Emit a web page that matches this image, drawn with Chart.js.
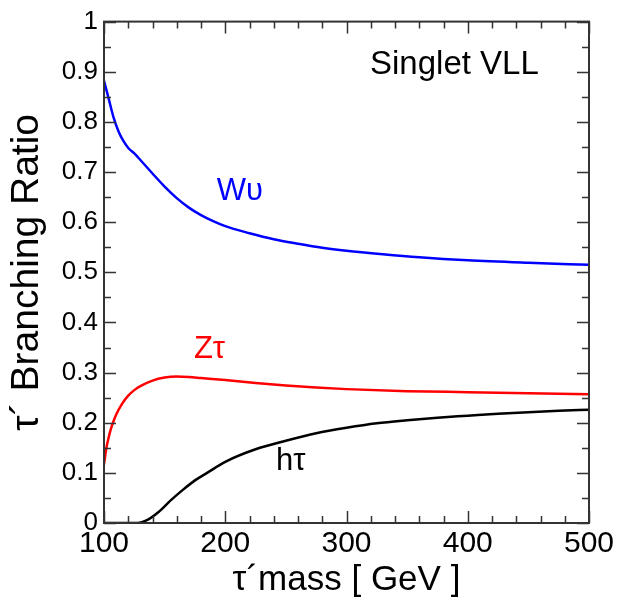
<!DOCTYPE html>
<html><head><meta charset="utf-8">
<script src="https://cdn.jsdelivr.net/npm/chart.js@4.4.1/dist/chart.umd.min.js"></script>
<style>html,body{margin:0;padding:0;background:#fff}</style>
</head><body>
<canvas id="c" width="619" height="599" style="width:619px;height:599px;display:block"></canvas>
<script>
// ---- data ----
const massW = [100,104,108,112,116,120,125,130,140,150,160,170,180,190,200,220,240,260,280,300,330,360,400,450,500];
const brW   = [0.882,0.845,0.808,0.781,0.762,0.748,0.737,0.724,0.697,0.671,0.648,0.629,0.614,0.602,0.592,0.578,0.566,0.557,0.549,0.543,0.536,0.530,0.524,0.519,0.515];
const massZ = [100,102,104,106,108,110,115,120,125,130,140,150,160,170,180,200,225,250,275,300,350,400,450,500];
const brZ   = [0.117,0.150,0.172,0.190,0.204,0.216,0.238,0.254,0.265,0.273,0.284,0.290,0.292,0.291,0.289,0.285,0.279,0.274,0.270,0.267,0.263,0.261,0.259,0.257];
const massH = [100,128,135,145,155,165,175,185,200,225,250,275,300,325,350,375,400,425,450,475,500];
const brH   = [0,0,0.005,0.022,0.045,0.066,0.085,0.100,0.122,0.147,0.164,0.179,0.190,0.199,0.205,0.210,0.214,0.218,0.221,0.224,0.226];
const seriesNames = ['Wυ','Zτ','hτ'];
const xTickValues = [100,200,300,400,500];
const xTickLabels = ['100','200','300','400','500'];
const yTickValues = [0,0.1,0.2,0.3,0.4,0.5,0.6,0.7,0.8,0.9,1];
const yTickLabels = ['0','0.1','0.2','0.3','0.4','0.5','0.6','0.7','0.8','0.9','1'];
const xTitle = 'τ´mass [ GeV ]';
const yTitle = 'τ´ Branching Ratio';
const boxText = 'Singlet VLL';

const FONT = "'Liberation Sans', Arial, Helvetica, sans-serif";
Chart.defaults.font.family = FONT;
Chart.defaults.color = '#000';

const pts = (xs, ys) => xs.map((v, i) => ({x: v, y: ys[i]}));
const mk = (label, xs, ys, color) => ({
  label, data: pts(xs, ys), borderColor: color, backgroundColor: color,
  borderWidth: 2.5, pointRadius: 0, showLine: true, fill: false,
  cubicInterpolationMode: 'monotone'
});

const frame = {
  id: 'frame',
  afterDatasetsDraw(chart) {
    const {ctx, chartArea: {left, right, top, bottom}, scales: {x, y}} = chart;
    ctx.save();
    ctx.strokeStyle = '#333';
    ctx.lineWidth = 1.5;
    ctx.beginPath();
    for (let v = 100; v <= 500; v += 20) {
      const px = Math.round(x.getPixelForValue(v)) + 0.5;
      const L = (v % 100 === 0) ? 12 : 7;
      ctx.moveTo(px, bottom); ctx.lineTo(px, bottom - L);
      ctx.moveTo(px, top); ctx.lineTo(px, top + L);
    }
    for (let i = 0; i <= 20; i++) {
      const py = Math.round(y.getPixelForValue(i * 0.05)) + 0.5;
      const L = (i % 2 === 0) ? 12 : 7;
      ctx.moveTo(left, py); ctx.lineTo(left + L, py);
      ctx.moveTo(right, py); ctx.lineTo(right - L, py);
    }
    ctx.stroke();
    ctx.lineWidth = 2;
    ctx.strokeRect(left, top, right - left, bottom - top);
    // annotations
    const lab = (t, xv, yv, col, size) => {
      ctx.fillStyle = col;
      ctx.font = size + 'px ' + FONT;
      ctx.textAlign = 'center'; ctx.textBaseline = 'middle';
      ctx.fillText(t, x.getPixelForValue(xv), y.getPixelForValue(yv));
    };
    lab(seriesNames[0], 212, 0.662, '#0000ff', 31);
    lab(seriesNames[1], 187, 0.347, '#ff0000', 31);
    lab(seriesNames[2], 254, 0.122, '#000000', 31);
    lab(boxText, 389, 0.913, '#000000', 33);
    ctx.restore();
  }
};

new Chart(document.getElementById('c'), {
  type: 'scatter',
  data: { datasets: [
    mk(seriesNames[0], massW, brW, '#0000ff'),
    mk(seriesNames[1], massZ, brZ, '#ff0000'),
    mk(seriesNames[2], massH, brH, '#000000')
  ]},
  options: {
    responsive: false, animation: false, devicePixelRatio: 1,
    layout: { padding: { top: 13, right: 30, left: 0, bottom: 0 } },
    plugins: { legend: { display: false }, tooltip: { enabled: false } },
    scales: {
      x: {
        type: 'linear', min: 100, max: 500,
        afterFit: s => { s.height = 76; },
        afterBuildTicks: s => { s.ticks = xTickValues.map(v => ({value: v})); },
        grid: { display: false, drawTicks: false }, border: { display: false },
        ticks: { font: { size: 30 }, color: '#000', padding: 3, maxRotation: 0,
          callback: (v) => { const i = xTickValues.indexOf(v); return i >= 0 ? xTickLabels[i] : ''; } },
        title: { display: true, text: xTitle, font: { size: 35 }, color: '#000', padding: { top: 0, bottom: -2 } }
      },
      y: {
        type: 'linear', min: 0, max: 1,
        afterFit: s => { s.width = 104; },
        afterBuildTicks: s => { s.ticks = yTickValues.map(v => ({value: v})); },
        grid: { display: false, drawTicks: false }, border: { display: false },
        ticks: { font: { size: 26 }, color: '#000', padding: 6,
          callback: (v) => { const i = yTickValues.findIndex(t => Math.abs(t - v) < 1e-9); return i >= 0 ? yTickLabels[i] : ''; } },
        title: { display: true, text: yTitle, font: { size: 39 }, color: '#000', padding: { top: 4, bottom: 0 } }
      }
    }
  },
  plugins: [frame]
});
</script>
</body></html>
